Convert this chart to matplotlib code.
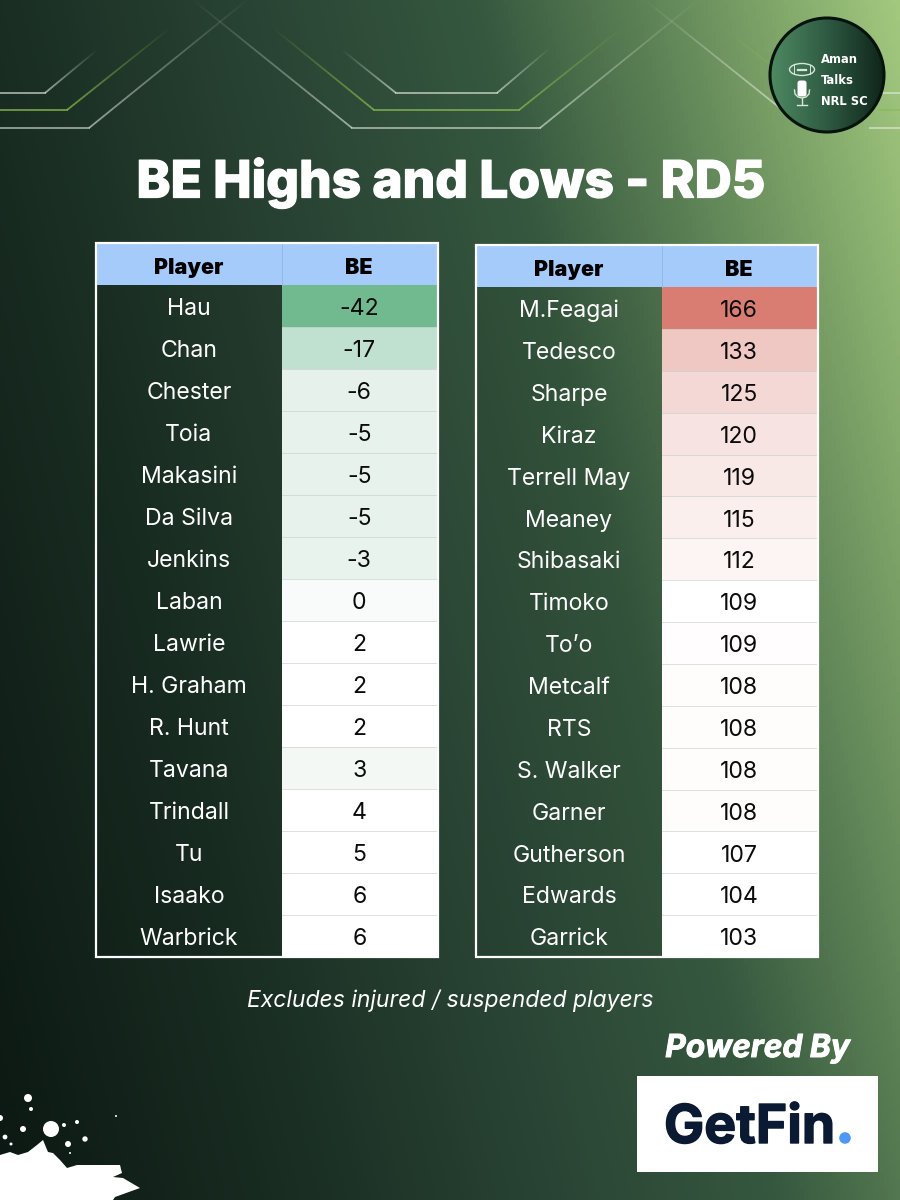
import numpy as np
import matplotlib
matplotlib.use("Agg")
import matplotlib.pyplot as plt
from matplotlib.patches import Rectangle, Circle, Ellipse, Polygon, FancyBboxPatch
from matplotlib.colors import LinearSegmentedColormap, to_rgb
from matplotlib.collections import LineCollection
import matplotlib.patheffects as pe
from matplotlib import font_manager as fm

# ---- data ----
left_players = ["Hau","Chan","Chester","Toia","Makasini","Da Silva","Jenkins","Laban","Lawrie",
                "H. Graham","R. Hunt","Tavana","Trindall","Tu","Isaako","Warbrick"]
left_be = [-42,-17,-6,-5,-5,-5,-3,0,2,2,2,3,4,5,6,6]
right_players = ["M.Feagai","Tedesco","Sharpe","Kiraz","Terrell May","Meaney","Shibasaki","Timoko","To\u2019o",
                 "Metcalf","RTS","S. Walker","Garner","Gutherson","Edwards","Garrick"]
right_be = [166,133,125,120,119,115,112,109,109,108,108,108,108,107,104,103]

# ---- styles ----
left_fill = ["#71b98e","#c0e1cf","#e7f1ec","#e8f2ed","#e8f2ed","#e8f2ed","#e9f3ee","#f8fbf9","#ffffff",
             "#ffffff","#ffffff","#f3f8f5","#ffffff","#ffffff","#ffffff","#ffffff"]
right_fill = ["#d97d72","#efc8c3","#f4d8d5","#f7e4e2","#f8e8e6","#faefed","#fcf5f4","#ffffff","#fffdfd",
              "#fffcfc","#fffcfc","#fffcfc","#fffcfc","#ffffff","#ffffff","#ffffff"]

FONT = "Inter"
plt.rcParams["font.family"] = [FONT, "DejaVu Sans"]

fig = plt.figure(figsize=(9, 12), dpi=100)
ax = fig.add_axes([0, 0, 1, 1])
ax.set_xlim(0, 900); ax.set_ylim(1200, 0); ax.axis("off")

# background gradient
yy, xx = np.mgrid[0:1200:300j, 0:900:225j]
t = 0.75 * xx / 900 + 0.25 * (1 - yy / 1200)
stops = [(0, "#0c1813"), (0.25, "#1a2e23"), (0.5, "#2c4837"), (0.65, "#36583f"), (0.8, "#618658"), (1, "#a2c87e")]
bg = LinearSegmentedColormap.from_list("bg", stops)
ax.imshow(t, cmap=bg, vmin=0, vmax=1, extent=[0, 900, 1200, 0], aspect="auto", zorder=0)
ax.set_xlim(0, 900); ax.set_ylim(1200, 0)

# decorative fading lines: solid part then fading part
def fading(pts, color, lw=1.3, a0=0.65):
    pts = np.array(pts, float)
    solid, tail = pts[:-1], pts[-2:]
    ax.plot(solid[:, 0], solid[:, 1], color=color, lw=lw, alpha=a0, zorder=1, solid_joinstyle="miter")
    s = np.linspace(0, 1, 40)[:, None]
    p = tail[0] + s * (tail[1] - tail[0])
    segs = np.stack([p[:-1], p[1:]], axis=1)
    rgb = to_rgb(color)
    ax.add_collection(LineCollection(segs, colors=[(*rgb, a0 * (1 - u)) for u in s[:-1, 0]], linewidths=lw, zorder=1))

WHITE_LINE = "#e8f0e6"; GREEN_LINE = "#86b84c"
fading([(0,93),(45,93),(97,50)], WHITE_LINE)
fading([(0,110),(67,110),(170,28)], GREEN_LINE, a0=0.8)
fading([(0,128),(89,128),(247,0)], WHITE_LINE, a0=0.6)
fading([(352,128),(193,0)], WHITE_LINE, a0=0.6)
fading([(374,110),(273,28)], GREEN_LINE, a0=0.8)
fading([(396,93),(342,50)], WHITE_LINE)
fading([(352,128),(540,128),(698,0)], WHITE_LINE, a0=0.6)
fading([(374,110),(519,110),(622,28)], GREEN_LINE, a0=0.8)
fading([(396,93),(497,93),(550,48)], WHITE_LINE)
fading([(780,108),(645,0)], WHITE_LINE, a0=0.6)
fading([(780,72),(720,26)], GREEN_LINE, a0=0.5)
ax.plot([880, 900], [93, 93], color=WHITE_LINE, lw=1.3, alpha=0.6, zorder=1)
ax.plot([880, 900], [110, 110], color=GREEN_LINE, lw=1.3, alpha=0.5, zorder=1)
ax.plot([870, 900], [128, 128], color=WHITE_LINE, lw=1.3, alpha=0.6, zorder=1)

# logo
cx, cy, cr = 827, 75, 57
grad = np.linspace(0, 1, 128)[None, :]
logo_cmap = LinearSegmentedColormap.from_list("logo", ["#4f8a62", "#2e5a42", "#10251a"])
im = ax.imshow(grad, cmap=logo_cmap, extent=[cx-cr, cx+cr, cy+cr, cy-cr], aspect="auto", zorder=3)
im.set_clip_path(Circle((cx, cy), cr, transform=ax.transData))
ax.set_xlim(0, 900); ax.set_ylim(1200, 0)
ax.add_patch(Circle((cx, cy), cr, fill=False, ec="#07130d", lw=2.2, zorder=4))

# narrowest bold face available, sized so that "NRL SC" spans the logo's text width
narrow = [f for f in fm.fontManager.ttflist
          if ("ondensed" in f.name or "Narrow" in f.name or "ondensed" in str(f.stretch))]
bold_narrow = [f for f in narrow if f.weight in ("bold", 700)] or narrow
logo_font = fm.FontProperties(fname=bold_narrow[0].fname) if bold_narrow else fm.FontProperties(family="Roboto", weight="bold")
renderer = fig.canvas.get_renderer()
probe = ax.text(0, 0, "NRL SC", fontproperties=logo_font, fontsize=14)
logo_size = 14 * 47 / probe.get_window_extent(renderer).width
probe.remove()
for line, yy_ in zip(["Aman", "Talks", "NRL SC"], [58, 79, 100]):
    ax.text(821, yy_, line, color="white", fontproperties=logo_font, fontsize=logo_size, ha="left",
            va="center_baseline", zorder=5)
# football and microphone icons
ax.add_patch(Ellipse((802, 69.5), 25, 12, fill=False, ec="#d8e6dc", lw=1, zorder=5))
ax.plot([798, 806], [69.5, 69.5], color="#d8e6dc", lw=1.6, zorder=5)
ax.plot([794, 794], [65, 74], color="#d8e6dc", lw=0.7, zorder=5)
ax.plot([810, 810], [65, 74], color="#d8e6dc", lw=0.7, zorder=5)
ax.add_patch(FancyBboxPatch((800, 83), 4, 11, boxstyle="round,pad=2.5", fc="white", ec="none", zorder=5))
ax.plot([794.5, 795, 798, 802, 806, 809, 809.5], [90, 94, 97, 98, 97, 94, 90], color="#d8e6dc", lw=1, zorder=5)
ax.plot([802, 802], [98, 104], color="#d8e6dc", lw=1, zorder=5)
ax.plot([797, 807], [104.5, 104.5], color="#d8e6dc", lw=1, zorder=5)

# title
ax.text(450.5, 177, "BE Highs and Lows - RD5", color="white", fontsize=37, weight=800,
        ha="center", va="center_baseline", zorder=5,
        path_effects=[pe.withStroke(linewidth=0.9, foreground="white")])

# tables
def draw_table(x0, x_split, x1, y0, head_bottom, y1, players, values, fills):
    h = (y1 - head_bottom) / len(players)
    ax.add_patch(Rectangle((x0, head_bottom), x_split - x0, y1 - head_bottom, fc="#000000", alpha=0.05, ec="none", zorder=2))
    ax.add_patch(Rectangle((x0, y0), x1 - x0, head_bottom - y0, fc="#a5cbfb", ec="none", zorder=2))
    ax.plot([x_split, x_split], [y0, head_bottom], color="#93b9e6", lw=0.7, zorder=3)
    for lab, xc in [("Player", (x0 + x_split) / 2), ("BE", (x_split + x1) / 2 - 0.5)]:
        ax.text(xc, (y0 + head_bottom) / 2 + 1.5, lab, color="black", fontsize=15.5, weight="black", ha="center",
                va="center_baseline", zorder=5)
    for i, (p, v, c) in enumerate(zip(players, values, fills)):
        top = head_bottom + i * h
        ax.add_patch(Rectangle((x_split, top), x1 - x_split, h, fc=c, ec="none", zorder=2))
        if i:
            ax.plot([x_split, x1], [top, top], color="#b9c7be", lw=0.6, alpha=0.6, zorder=3)
        ax.text((x0 + x_split) / 2, top + h / 2 + 0.7, p, color="white", fontsize=16.6, ha="center", va="center_baseline", zorder=5)
        ax.text((x_split + x1) / 2 - 0.5, top + h / 2 + 0.7, str(v), color="#0b0b0b", fontsize=16.6, ha="center", va="center_baseline", zorder=5)
    ax.add_patch(Rectangle((x0, y0), x1 - x0, y1 - y0, fill=False, ec="white", lw=1.6, zorder=4))

draw_table(96, 282, 437.5, 243, 285, 957, left_players, left_be, left_fill)
draw_table(476, 662, 817.5, 245, 287, 957, right_players, right_be, right_fill)

# footer texts
ax.text(450.5, 998, "Excludes injured / suspended players", color="white", fontsize=16.5, style="italic",
        family=["Inter", "Roboto"], ha="center", va="center_baseline", zorder=5)
ax.text(757.5, 1045, "Powered By", color="white", fontsize=22.8, style="italic", weight="bold",
        family=["Inter", "Roboto"], ha="center", va="center_baseline", zorder=5,
        path_effects=[pe.withStroke(linewidth=0.7, foreground="white")])

# sponsor box
ax.add_patch(Rectangle((637, 1076), 241, 96, fc="white", ec="none", zorder=3))
ax.text(664, 1143, "GetFin", color="#0b1a33", fontsize=38.6, weight="bold", ha="left", va="baseline", zorder=5,
        path_effects=[pe.withStroke(linewidth=1.0, foreground="#0b1a33")])
ax.add_patch(Circle((845, 1138), 5.8, fc="#4f97f5", ec="none", zorder=5))

# paint splatter, bottom-left
splat = [(0,1155),(10,1152),(18,1155),(28,1152),(37,1145),(43,1140),(48,1152),(53,1153),(60,1160),(67,1168),
         (77,1165),(97,1165),(110,1165),(120,1165),(122,1173),(113,1177),(123,1178),(140,1188),(115,1197),(113,1200),(0,1200)]
ax.add_patch(Polygon(splat, closed=True, fc="white", ec="none", zorder=2))
drops = [(28,1098,4),(31,1109,2),(0,1118,3),(23,1129,3),(5,1137,2.4),(11,1144,1.5),(51,1129,8),(64,1125,2),
         (77,1122,2),(68,1144,3),(85,1139,2.7),(70,1153,1),(116,1116,1)]
for x_, y_, r_ in drops:
    ax.add_patch(Circle((x_, y_), r_, fc="white", ec="none", zorder=2))

fig.savefig("out.png", dpi=100)
